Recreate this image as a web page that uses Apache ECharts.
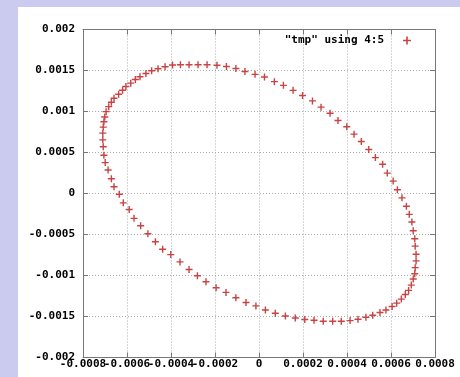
<!DOCTYPE html>
<html>
<head>
<meta charset="utf-8">
<script src="https://cdn.jsdelivr.net/npm/echarts@6/dist/echarts.min.js"></script>
<style>html,body{margin:0;padding:0;background:#cbcbf0;}#c{width:460px;height:377px;}</style>
</head>
<body>
<div id="c"></div>
<script>
const seriesName = '"tmp" using 4:5';
const xTickLabels = ['-0.0008','-0.0006','-0.0004','-0.0002','0','0.0002','0.0004','0.0006','0.0008'];
const yTickLabels = ['-0.002','-0.0015','-0.001','-0.0005','0','0.0005','0.001','0.0015','0.002'];
const xValues = [
-0.000427,-0.000393,-0.000357,-0.000318,-0.000277,-0.000236,-0.000191,-0.000148,-0.000105,-0.000064,
-0.000018,0.000025,0.000070,0.000111,0.000155,0.000198,0.000243,0.000282,0.000323,0.000359,
0.000399,0.000432,0.000465,0.000499,0.000529,0.000562,0.000583,0.000610,0.000629,0.000650,
0.000670,0.000683,0.000695,0.000701,0.000708,0.000710,0.000714,0.000714,0.000710,0.000708,
0.000701,0.000692,0.000680,0.000665,0.000647,0.000626,0.000605,0.000577,0.000550,0.000517,
0.000486,0.000450,0.000414,0.000374,0.000335,0.000292,0.000250,0.000208,0.000165,0.000120,
0.000074,0.000029,-0.000014,-0.000059,-0.000105,-0.000150,-0.000195,-0.000241,-0.000280,-0.000318,
-0.000359,-0.000401,-0.000438,-0.000471,-0.000505,-0.000538,-0.000568,-0.000590,-0.000617,-0.000635,
-0.000659,-0.000671,-0.000686,-0.000699,-0.000705,-0.000708,-0.000710,-0.000710,-0.000708,-0.000705,
-0.000701,-0.000695,-0.000683,-0.000671,-0.000659,-0.000638,-0.000620,-0.000605,-0.000583,-0.000562,
-0.000541,-0.000514,-0.000488,-0.000459
];
const yValues = [
0.001546,0.001567,0.001571,0.001571,0.001571,0.001571,0.001564,0.001549,0.001525,0.001487,
0.001453,0.001420,0.001364,0.001319,0.001258,0.001196,0.001129,0.001053,0.000978,0.000890,
0.000814,0.000724,0.000634,0.000536,0.000438,0.000356,0.000249,0.000151,0.000045,-0.000053,
-0.000156,-0.000254,-0.000347,-0.000454,-0.000552,-0.000642,-0.000740,-0.000822,-0.000904,-0.000978,
-0.001043,-0.001117,-0.001182,-0.001231,-0.001288,-0.001337,-0.001378,-0.001420,-0.001452,-0.001485,
-0.001509,-0.001534,-0.001550,-0.001558,-0.001558,-0.001558,-0.001546,-0.001537,-0.001518,-0.001493,
-0.001460,-0.001420,-0.001371,-0.001329,-0.001272,-0.001206,-0.001150,-0.001076,-0.001003,-0.000926,
-0.000834,-0.000745,-0.000679,-0.000589,-0.000491,-0.000393,-0.000303,-0.000196,-0.000114,-0.000009,
0.000082,0.000180,0.000286,0.000377,0.000466,0.000571,0.000654,0.000736,0.000810,0.000875,
0.000933,0.000998,0.001059,0.001113,0.001162,0.001211,0.001260,0.001304,0.001346,0.001390,
0.001423,0.001464,0.001497,0.001522
];

const X_MIN = -0.0008, X_MAX = 0.0008, X_INT = 0.0002;
const Y_MIN = -0.002, Y_MAX = 0.002, Y_INT = 0.0005;
const FONT = 'DejaVu Sans Mono';
const PLUS = 'path://M4,0H6V4H10V6H6V10H4V6H0V4H4Z';
const RED = '#c84444';
const AX = '#777';

const data = xValues.map((x, i) => [x, yValues[i]]);

function xIdx(v) { return Math.round((v - X_MIN) / X_INT); }
function xFmtEven(v) { const i = xIdx(v); return i % 2 === 0 ? (xTickLabels[i] ?? '') : ''; }
function xFmtOdd(v) { const i = xIdx(v); return i % 2 === 1 ? (xTickLabels[i] ?? '') : ''; }
function yFmt(v) { const i = Math.round((v - Y_MIN) / Y_INT); return yTickLabels[i] ?? ''; }

const labelStyle = { fontFamily: FONT, fontSize: 11, fontWeight: 'bold', color: '#000' };
const gridLine = { show: true, lineStyle: { type: [1, 2], color: '#aaa', width: 1 } };

const chart = echarts.init(document.getElementById('c'), null, { renderer: 'canvas' });
chart.setOption({
  backgroundColor: '#cbcbf0',
  animation: false,
  graphic: [{
    type: 'rect', z: -100, silent: true,
    shape: { x: 18, y: 7, width: 442, height: 370 },
    style: { fill: '#ffffff' }
  }],
  grid: { left: 83, right: 25, top: 29.5, bottom: 19.5, containLabel: false },
  legend: {
    right: 44, top: 30, align: 'right',
    itemWidth: 8, itemHeight: 8,
    icon: PLUS,
    textStyle: Object.assign({ padding: [0, 14, 0, 0] }, labelStyle),
    data: [seriesName]
  },
  xAxis: [{
    type: 'value', min: X_MIN, max: X_MAX, interval: X_INT, position: 'bottom',
    axisLine: { show: true, onZero: false, lineStyle: { color: AX } },
    axisTick: { show: true, inside: true, length: 5, lineStyle: { color: AX } },
    axisLabel: Object.assign({ formatter: xFmtEven, margin: 1, showMinLabel: true, showMaxLabel: true, hideOverlap: false }, labelStyle),
    splitLine: gridLine
  }, {
    type: 'value', min: X_MIN, max: X_MAX, interval: X_INT, position: 'top',
    axisLine: { show: true, onZero: false, lineStyle: { color: AX } },
    axisTick: { show: true, inside: true, length: 5, lineStyle: { color: AX } },
    axisLabel: { show: false }, splitLine: { show: false }
  }, {
    type: 'value', min: X_MIN, max: X_MAX, interval: X_INT, position: 'bottom', offset: 0,
    axisLine: { show: false, onZero: false },
    axisTick: { show: false },
    axisLabel: Object.assign({ formatter: xFmtOdd, margin: 1, showMinLabel: true, showMaxLabel: true, hideOverlap: false }, labelStyle),
    splitLine: { show: false }
  }],
  yAxis: [{
    type: 'value', min: Y_MIN, max: Y_MAX, interval: Y_INT, position: 'left',
    axisLine: { show: true, onZero: false, lineStyle: { color: AX } },
    axisTick: { show: true, inside: true, length: 5, lineStyle: { color: AX } },
    axisLabel: Object.assign({ formatter: yFmt, margin: 8, showMinLabel: true, showMaxLabel: true }, labelStyle),
    splitLine: gridLine
  }, {
    type: 'value', min: Y_MIN, max: Y_MAX, interval: Y_INT, position: 'right',
    axisLine: { show: true, onZero: false, lineStyle: { color: AX } },
    axisTick: { show: true, inside: true, length: 5, lineStyle: { color: AX } },
    axisLabel: { show: false }, splitLine: { show: false }
  }],
  series: [{
    name: seriesName,
    type: 'scatter',
    xAxisIndex: 0, yAxisIndex: 0,
    symbol: PLUS,
    symbolSize: 7,
    itemStyle: { color: RED, opacity: 1 },
    data: data
  }]
});
</script>
</body>
</html>
